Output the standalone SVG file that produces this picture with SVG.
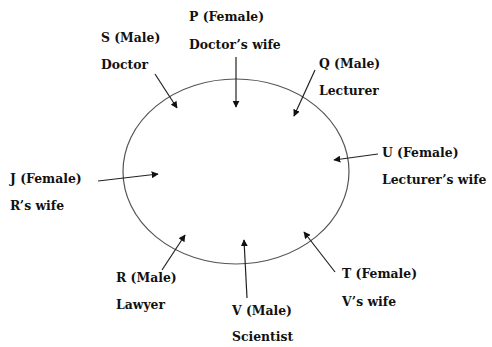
<svg xmlns="http://www.w3.org/2000/svg" width="492" height="347" viewBox="0 0 492 347">
<style>
text{font-family:"DejaVu Serif","Liberation Serif",serif;font-weight:bold;font-size:12.4px;fill:#111}
.c{stroke:#222;stroke-width:1.2;fill:none;marker-end:url(#ah)}
</style>
<defs>
<marker id="ah" viewBox="0 0 10 10" refX="9" refY="5" markerWidth="7" markerHeight="7" markerUnits="userSpaceOnUse" orient="auto">
<path d="M0,0L10,5L0,10z" fill="#111"/>
</marker>
</defs>
<rect width="492" height="347" fill="#fff"/>
<ellipse cx="236" cy="171.5" rx="113" ry="92.5" fill="none" stroke="#555" stroke-width="1.2"/>
<g id="connectors">
<line class="c" x1="155" y1="74" x2="177" y2="108"/>
<line class="c" x1="236" y1="57" x2="236" y2="107"/>
<line class="c" x1="315" y1="70" x2="294" y2="116"/>
<line class="c" x1="378" y1="154" x2="334" y2="160"/>
<line class="c" x1="98" y1="181" x2="158" y2="174"/>
<line class="c" x1="162" y1="270" x2="185" y2="235"/>
<line class="c" x1="247" y1="298" x2="244" y2="240"/>
<line class="c" x1="335" y1="272" x2="304" y2="232"/>
</g>
<g id="P"><text x="189" y="21">P (Female)</text><text x="189" y="49">Doctor’s wife</text></g>
<g id="S"><text x="101" y="42">S (Male)</text><text x="101" y="69">Doctor</text></g>
<g id="Q"><text x="319" y="68">Q (Male)</text><text x="319" y="95">Lecturer</text></g>
<g id="U"><text x="382" y="157">U (Female)</text><text x="382" y="184">Lecturer’s wife</text></g>
<g id="J"><text x="10" y="183">J (Female)</text><text x="10" y="210">R’s wife</text></g>
<g id="R"><text x="116" y="282">R (Male)</text><text x="116" y="309">Lawyer</text></g>
<g id="V"><text x="232" y="315">V (Male)</text><text x="232" y="341">Scientist</text></g>
<g id="T"><text x="342" y="278">T (Female)</text><text x="342" y="306">V’s wife</text></g>
</svg>
